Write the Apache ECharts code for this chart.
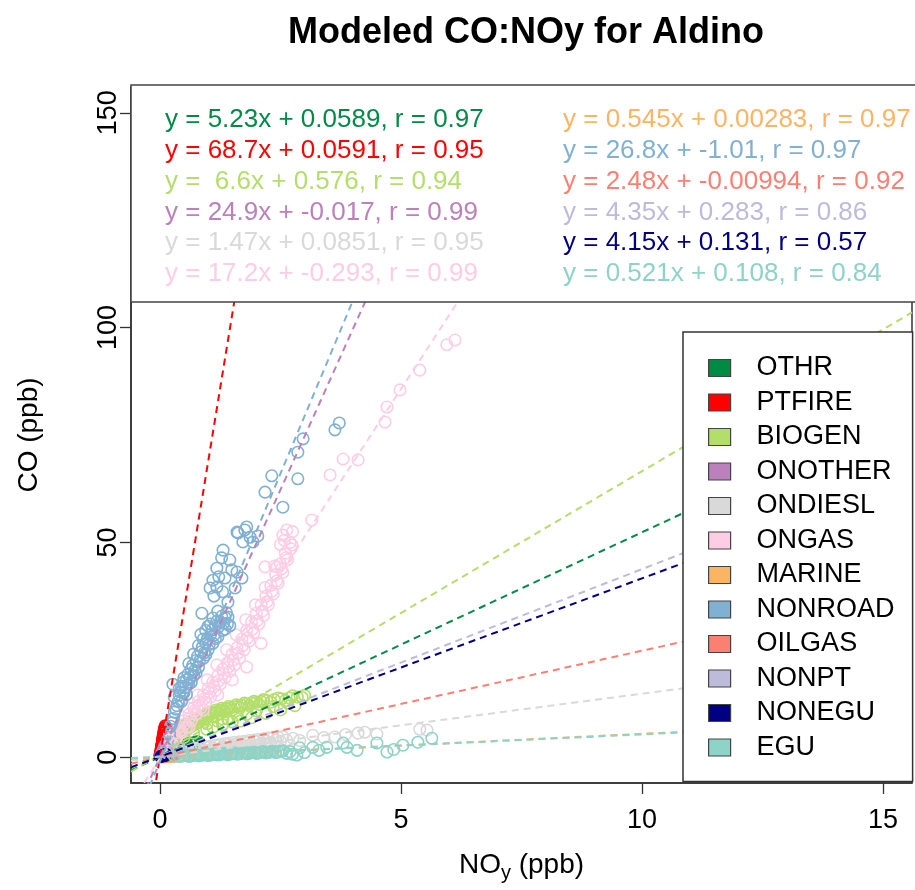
<!DOCTYPE html>
<html>
<head>
<meta charset="utf-8">
<title>Modeled CO:NOy for Aldino</title>
<script src="https://cdn.jsdelivr.net/npm/echarts@6/dist/echarts.min.js"></script>
<style>
  html, body { margin: 0; padding: 0; background: #fff; }
  #chart { width: 915px; height: 890px; }
</style>
</head>
<body>
<div id="chart"></div>
<script>
// Emission source sectors, in legend order
const sources = ['OTHR', 'PTFIRE', 'BIOGEN', 'ONOTHER', 'ONDIESL', 'ONGAS',
                 'MARINE', 'NONROAD', 'OILGAS', 'NONPT', 'NONEGU', 'EGU'];
const colors = ['#008B45', '#FF0000', '#B3DE69', '#BC80BD', '#D9D9D9', '#FCCDE5',
                '#FDB462', '#80B1D3', '#FB8072', '#BEBADA', '#000080', '#8DD3C7'];

// Linear fit CO = slope * NOy + intercept, with correlation r
const slopes     = [5.23, 68.7, 6.6, 24.9, 1.47, 17.2, 0.545, 26.8, 2.48, 4.35, 4.15, 0.521];
const intercepts = [0.0589, 0.0591, 0.576, -0.017, 0.0851, -0.293, 0.00283, -1.01, -0.00994, 0.283, 0.131, 0.108];
const rValues    = [0.97, 0.95, 0.94, 0.99, 0.95, 0.99, 0.97, 0.97, 0.92, 0.86, 0.57, 0.84];

// Axis ticks and limits (ppb)
const xTicks = [0, 5, 10, 15];
const yTicks = [0, 50, 100, 150];
const xLimits = [-0.6, 15.6];
const yLimits = [-6, 156];

// Modeled [NOy, CO] pairs for each sector (ppb)
const othrPts = [[0.00,0.4],[0.02,0.9],[0.04,0.6],[0.05,1.2],[0.07,0.8],[0.08,1.5],[0.10,1.0],[0.12,1.3],
  [0.14,1.7],[0.15,1.1],[0.18,1.9],[0.20,1.4],[0.22,2.0],[0.25,1.6],[0.27,2.2],[0.30,1.8],[0.33,2.4],
  [0.36,2.0],[0.40,2.5],[0.42,2.2],[0.46,2.7],[0.50,2.5],[0.55,2.9],[0.58,2.7],[0.62,3.3],[0.66,3.0],
  [0.72,3.4],[0.77,3.6],[0.06,0.2],[0.11,0.5]];
const ptfirePts = [[0.005,0.4],[0.01,0.9],[0.015,1.1],[0.02,1.5],[0.025,1.8],[0.03,2.0],[0.035,2.6],
  [0.04,2.9],[0.045,3.1],[0.05,3.4],[0.055,3.9],[0.06,4.2],[0.065,4.6],[0.07,4.9],[0.075,5.1],[0.08,5.6],
  [0.085,5.9],[0.09,6.3],[0.095,6.5],[0.10,6.9],[0.02,0.8],[0.04,2.3],[0.06,3.7],[0.08,5.2],[0.10,6.2],
  [0.11,7.3],[0.03,1.3],[0.05,2.7],[0.07,4.4],[0.09,5.8]];
const biogenPts = [[0.08,1.6],[0.12,2.5],[0.15,3.4],[0.18,2.8],[0.20,4.1],[0.24,3.6],[0.26,5.0],[0.30,4.4],
  [0.32,5.8],[0.36,5.0],[0.40,6.4],[0.43,5.6],[0.46,7.0],[0.50,6.1],[0.54,7.6],[0.58,6.6],[0.62,8.1],
  [0.66,7.2],[0.70,8.6],[0.74,7.7],[0.78,9.1],[0.82,8.2],[0.86,9.6],[0.90,8.7],[0.95,10.1],[1.00,9.2],
  [1.05,10.6],[1.10,9.6],[1.16,11.0],[1.22,10.1],[1.28,11.4],[1.35,10.6],[1.42,11.8],[1.50,11.0],
  [1.58,12.2],[1.66,11.5],[1.75,12.6],[1.85,12.0],[1.95,13.0],[2.05,12.3],[2.15,13.4],[2.30,12.8],
  [2.45,13.8],[2.60,13.2],[2.75,14.3],[2.95,13.9],[3.00,14.4],[0.98,7.8],[1.30,8.9],[1.60,9.8],
  [0.10,2.0],[0.14,3.0],[0.22,3.3],[0.28,4.7],[0.34,5.4],[0.38,5.9],[0.44,6.5],[0.48,6.6],[0.52,7.1],
  [0.56,7.2],[0.60,7.6],[0.64,7.7],[0.68,8.1],[0.72,8.2],[0.76,8.6],[0.80,8.7],[0.84,9.1],[0.88,9.2],
  [0.92,9.6],[0.97,9.7],[1.02,10.0],[1.08,10.2],[1.14,10.5],[1.19,10.6],[1.25,10.9],[1.32,11.1],
  [1.39,11.3],[1.46,11.5],[1.54,11.7],[1.62,11.9],[1.70,12.1],[1.80,12.4],[1.90,12.6],[2.00,12.8],
  [2.10,13.0],[2.22,13.2],[2.37,13.4],[2.52,13.6],[2.68,13.8],[2.85,14.0],
  [0.97,6.5],[1.10,7.0],[1.30,7.6],[1.50,8.2],[1.66,8.4],[1.90,9.2],[2.20,10.2],[2.50,11.0],[2.80,12.0],
  [0.70,5.6],[0.50,4.6],[1.20,8.4],[1.40,9.0],[1.80,10.0],[2.00,10.8],[2.35,11.8],[2.65,12.6]];
const onotherPts = [[0.02,0.5],[0.05,1.2],[0.08,1.9],[0.10,2.6],[0.13,3.1],[0.16,4.0],[0.20,4.9],[0.24,6.0]];
const ondieslPts = [[0.1,0.3],[0.2,0.6],[0.3,0.9],[0.4,1.1],[0.5,1.4],[0.6,1.3],[0.7,1.8],[0.8,2.0],
  [0.9,1.7],[1.0,2.3],[1.1,2.1],[1.2,2.6],[1.3,2.4],[1.4,2.9],[1.5,2.7],[1.6,3.1],[1.7,2.9],[1.8,3.3],
  [1.9,3.0],[2.0,3.6],[2.1,3.2],[2.2,3.8],[2.3,3.4],[2.4,4.0],[2.5,3.7],[2.63,4.0],[2.76,4.4],[2.9,3.9],
  [3.17,5.1],[3.4,4.6],[3.63,4.7],[3.85,5.3],[4.11,5.6],[4.25,5.8],[4.5,5.4],[5.39,6.5],[5.54,6.3],
  [1.0,1.6],[1.5,2.2],[2.0,2.8],
  [0.15,0.5],[0.25,0.8],[0.35,1.0],[0.45,1.3],[0.55,1.6],[0.65,1.7],[0.75,2.1],[0.85,2.2],[0.95,2.5],
  [1.05,2.6],[1.15,2.8],[1.25,3.0],[1.35,3.2],[1.45,3.3],[1.55,3.5],[1.65,3.6],[1.75,3.7],[1.85,3.9],
  [1.95,4.0],[2.05,4.2],[2.15,4.3],[2.25,4.5],[2.35,4.6],[2.45,4.7],[2.55,4.8],[1.2,1.9],[1.4,2.3],
  [1.6,2.5],[1.8,2.8],[2.2,3.1]];
const ongasPts = [[0.15,2.5],[0.20,4.0],[0.25,3.2],[0.30,5.5],[0.35,4.5],[0.40,7.0],[0.45,5.8],[0.50,8.5],
  [0.55,7.0],[0.60,10.0],[0.65,8.5],[0.70,11.5],[0.75,10.0],[0.80,13.0],[0.85,11.5],[0.90,14.5],
  [0.95,12.8],[1.00,16.0],[1.05,14.0],[1.10,17.5],[1.15,15.5],[1.20,19.0],[1.25,17.0],[1.30,20.5],
  [1.35,18.5],[1.40,22.0],[1.45,20.0],[1.50,24.0],[1.55,21.5],[1.60,25.5],[1.65,23.0],[1.70,27.5],
  [1.75,25.0],[1.80,29.5],[1.85,27.0],[1.90,31.5],[1.95,29.0],[2.00,33.5],[2.05,31.0],[2.10,35.5],
  [2.15,33.0],[2.20,37.5],[2.25,35.5],[2.30,40.0],[2.35,38.0],[2.40,42.5],[2.45,40.5],[2.50,45.0],
  [2.55,43.0],[2.60,47.5],[2.65,46.0],[2.70,50.0],[2.75,52.5],[2.50,49.5],[2.55,51.7],[2.63,52.9],
  [2.74,49.4],[2.43,44.3],[2.18,44.3],[3.15,55.2],[3.53,65.7],[3.80,69.4],[4.11,69.2],[4.67,78.0],
  [4.71,81.5],[4.98,85.5],[5.39,90.1],[5.95,96.0],[6.12,97.1],[0.90,11.0],[1.20,14.5],[1.50,18.0],
  [1.80,21.0],[2.10,26.5],[0.60,7.0],
  [0.32,4.2],[0.42,6.2],[0.52,7.8],[0.62,9.2],[0.72,10.8],[0.82,12.2],[0.92,13.6],[1.02,15.0],
  [1.12,16.4],[1.22,17.8],[1.32,19.4],[1.42,21.0],[1.52,22.6],[1.62,24.2],[1.72,26.0],[1.82,27.8],
  [1.92,29.8],[2.02,31.8],[2.12,34.0],[2.22,36.2],[2.32,38.6],[2.42,41.0],[2.52,43.8],[2.62,46.5],
  [2.72,48.5],[0.58,11.5],[0.78,14.5],[0.98,18.0],[1.18,21.5],[1.38,25.0],[1.58,28.5],[1.78,32.0],
  [1.98,35.5],[2.18,39.5],[2.38,44.5],[2.58,50.5]];
const marinePts = [[0.1,0.06],[0.2,0.1],[0.3,0.17],[0.45,0.25],[0.6,0.33],[0.8,0.44],[1.0,0.55],[1.2,0.65],
  [1.5,0.8],[1.8,1.0]];
const nonroadPts = [[0.15,3.0],[0.20,5.5],[0.25,8.0],[0.30,10.5],[0.35,12.0],[0.40,14.5],[0.45,16.5],
  [0.50,15.0],[0.55,18.0],[0.60,17.0],[0.65,20.5],[0.70,19.0],[0.75,22.5],[0.80,21.0],[0.85,24.5],
  [0.90,23.0],[0.95,26.5],[1.00,25.0],[1.05,28.5],[1.10,26.5],[1.15,30.5],[1.20,28.0],[1.25,31.5],
  [1.30,29.5],[1.35,32.5],[1.40,31.0],[0.87,33.5],[1.41,32.6],[0.95,29.5],[1.05,31.0],[0.90,27.5],
  [0.80,26.0],[0.30,14.0],[0.40,16.0],[0.50,18.5],[0.27,17.0],[0.45,13.0],
  [0.22,7.2],[0.28,9.0],[0.33,11.2],[0.38,13.0],[0.42,15.2],[0.48,17.5],[0.52,16.2],[0.58,19.3],
  [0.62,18.6],[0.68,21.4],[0.72,20.2],[0.78,23.5],[0.82,22.4],[0.88,25.6],[0.92,24.3],[0.98,27.4],
  [1.02,26.2],[1.08,29.6],[1.12,28.4],[1.18,31.6],[1.22,30.4],[1.28,32.8],[1.32,31.2],[1.38,33.6],
  [0.60,21.8],[0.70,24.0],[0.85,28.6],[1.00,30.5],[1.10,32.4],[1.20,34.0],[0.75,19.6],[0.95,23.8],
  [1.15,27.6],[1.35,29.8],[1.45,30.6],[0.55,14.6],[0.65,17.4],
  [1.04,39.4],[1.10,41.2],[1.18,39.6],[1.18,44.0],[1.28,46.4],[1.31,48.2],[1.35,41.7],[1.41,36.1],
  [1.45,45.9],[1.49,43.6],[1.56,39.4],[1.60,43.1],[1.70,41.7],[1.22,42.0],[1.12,37.5],[1.30,38.5],
  [1.60,52.4],[1.62,52.2],[1.72,50.1],[1.76,52.9],[1.80,53.6],[1.87,51.2],[1.93,50.1],[2.03,51.5],
  [2.55,58.2],[2.18,61.7],[2.32,65.5],[2.86,64.8],[2.86,71.0],[2.97,74.1],[3.63,76.2],[3.72,77.8]];
const oilgasPts = [[0.03,0.07],[0.06,0.15],[0.10,0.25],[0.15,0.35],[0.20,0.5],[0.25,0.6],[0.30,0.75]];
const nonptPts = [[0.05,0.5],[0.10,0.7],[0.15,0.9],[0.20,1.2],[0.30,1.6],[0.40,2.0]];
const noneguPts = [[0.02,0.2],[0.05,0.3],[0.08,0.5],[0.10,0.4],[0.12,0.7]];
const eguPts = [[0.3,0.3],[0.5,0.4],[0.6,0.2],[0.7,0.5],[0.8,0.3],[0.9,0.6],[1.0,0.4],[1.1,0.7],[1.2,0.5],
  [1.3,0.8],[1.4,0.6],[1.5,0.9],[1.6,0.7],[1.7,1.0],[1.8,0.8],[1.9,1.1],[2.0,0.9],[2.1,1.2],[2.2,1.0],
  [2.3,1.3],[2.4,1.1],[2.5,1.4],[2.63,0.9],[2.84,0.5],[3.0,1.1],[3.17,2.3],[3.46,2.3],[3.88,2.3],
  [3.8,3.3],[4.09,1.6],[4.5,3.3],[4.71,1.2],[4.85,1.8],[5.04,2.8],[5.35,3.5],[5.64,4.4],[2.9,2.2],[3.3,1.6],
  [0.4,0.2],[0.55,0.5],[0.65,0.3],[0.75,0.6],[0.85,0.4],[0.95,0.7],[1.05,0.5],[1.15,0.8],[1.25,0.6],
  [1.35,0.9],[1.45,0.7],[1.55,1.0],[1.65,0.8],[1.75,1.1],[1.85,0.9],[1.95,1.2],[2.05,1.0],[2.15,1.3],
  [2.25,1.1],[2.35,1.4],[2.45,1.2],[2.55,1.5],[2.7,1.3],[2.75,0.7]];

const points = [othrPts, ptfirePts, biogenPts, onotherPts, ondieslPts, ongasPts,
                marinePts, nonroadPts, oilgasPts, nonptPts, noneguPts, eguPts];

const FONT = '"Liberation Sans", Arial, Helvetica, sans-serif';

// Open-circle scatter for every sector
const scatterSeries = sources.map((name, i) => ({
  name: name,
  type: 'scatter',
  data: points[i],
  symbol: 'circle',
  symbolSize: 11.5,
  itemStyle: { color: 'rgba(0,0,0,0)', borderColor: colors[i], borderWidth: 1.6, opacity: 1 },
  emphasis: { disabled: true },
  z: 2
}));

// Dashed fit lines spanning the whole plot window
const fitSeries = sources.map((name, i) => ({
  name: name,
  type: 'line',
  data: xLimits.map(x => [x, slopes[i] * x + intercepts[i]]),
  symbol: 'none',
  clip: true,
  lineStyle: { color: colors[i], width: 2, type: [7, 5] },
  emphasis: { disabled: true },
  silent: true,
  z: 3
}));

// Equation labels, two columns of six
const eqText = i => 'y = ' + String(slopes[i]).padStart(4, ' ') + 'x + ' + String(intercepts[i]) +
  ', r = ' + String(rValues[i]);
const eqElements = sources.map((name, i) => ({
  type: 'text',
  z: 101,
  x: i < 6 ? 165 : 563,
  y: 120 + (i % 6) * 30.8,
  style: {
    text: eqText(i),
    fill: colors[i],
    font: '26px ' + FONT,
    textVerticalAlign: 'middle',
    textAlign: 'left'
  }
}));

const axisLineStyle = { color: '#333', width: 1.5 };

const chart = echarts.init(document.getElementById('chart'), null, { renderer: 'canvas' });
chart.setOption({
  animation: false,
  backgroundColor: '#fff',
  title: {
    text: 'Modeled CO:NOy for Aldino',
    left: 521,
    top: 10,
    textAlign: 'center',
    textStyle: { fontFamily: FONT, fontSize: 36, fontWeight: 'bold', color: '#000' }
  },
  grid: {
    left: 131, right: 3, top: 87, bottom: 107,
    containLabel: false,
    outerBoundsMode: 'none',
    show: true, borderColor: '#333', borderWidth: 1.5, backgroundColor: 'transparent'
  },
  xAxis: {
    type: 'value',
    min: xLimits[0], max: xLimits[1],
    name: '{a|NO}{s|y}{a| (ppb)}',
    nameLocation: 'middle',
    nameGap: 64,
    nameTextStyle: {
      rich: {
        a: { fontFamily: FONT, fontSize: 28, color: '#000', lineHeight: 30 },
        s: { fontFamily: FONT, fontSize: 20, color: '#000', padding: [16, 0, 0, 0] }
      }
    },
    axisLine: { show: true, onZero: false, lineStyle: axisLineStyle },
    axisTick: { show: true, inside: false, length: 11, customValues: xTicks, lineStyle: { color: '#333', width: 1.3 } },
    axisLabel: { customValues: xTicks, margin: 24, fontFamily: FONT, fontSize: 27, color: '#000' },
    splitLine: { show: false }
  },
  yAxis: {
    type: 'value',
    min: yLimits[0], max: yLimits[1],
    name: 'CO (ppb)',
    nameLocation: 'middle',
    nameGap: 88,
    nameRotate: 90,
    nameTextStyle: { fontFamily: FONT, fontSize: 28, color: '#000' },
    axisLine: { show: true, onZero: false, lineStyle: axisLineStyle },
    axisTick: { show: true, inside: false, length: 11, customValues: yTicks, lineStyle: { color: '#333', width: 1.3 } },
    axisLabel: { customValues: yTicks, rotate: 90, margin: 9, fontFamily: FONT, fontSize: 27, color: '#000' },
    splitLine: { show: false }
  },
  legend: {
    orient: 'vertical',
    left: 683,
    top: 332,
    icon: 'rect',
    itemWidth: 22,
    itemHeight: 17,
    itemGap: 6.5,
    padding: [22, 18, 20, 25],
    backgroundColor: '#fff',
    borderColor: '#333',
    borderWidth: 1.5,
    selectedMode: false,
    textStyle: { fontFamily: FONT, fontSize: 27, color: '#000', lineHeight: 28, padding: [0, 0, 0, 21] },
    data: sources.map((name, i) => ({
      name: name,
      itemStyle: { color: colors[i], opacity: 1, borderColor: '#444', borderWidth: 1.2 }
    })),
    z: 20
  },
  graphic: [
    {
      type: 'rect',
      z: 100,
      shape: { x: 131, y: 85, width: 800, height: 217 },
      style: { fill: '#fff', stroke: '#444', lineWidth: 1.5 }
    }
  ].concat(eqElements),
  series: scatterSeries.concat(fitSeries)
});
</script>
</body>
</html>
